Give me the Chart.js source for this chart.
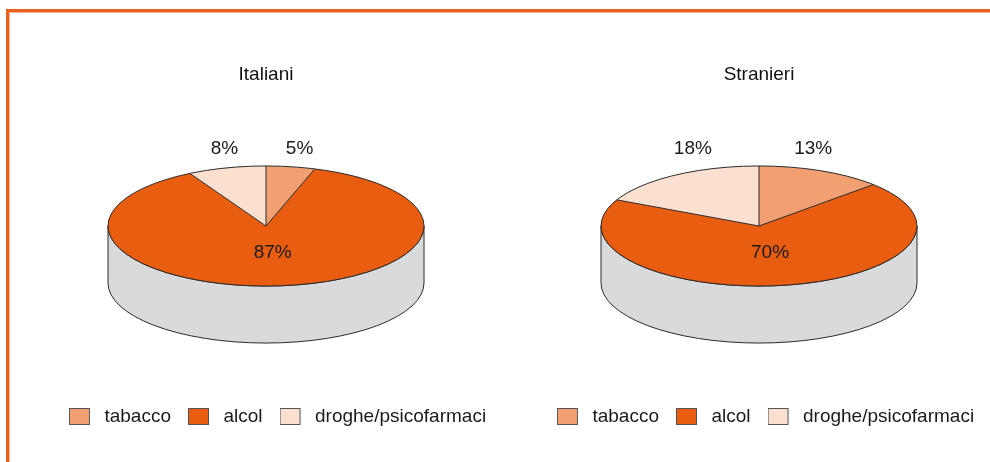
<!DOCTYPE html>
<html><head><meta charset="utf-8">
<script src="https://cdn.jsdelivr.net/npm/chart.js@4.4.0/dist/chart.umd.min.js"></script>
<style>
html,body{margin:0;padding:0;background:#fff;width:990px;height:462px;overflow:hidden;position:relative}
#frame{position:absolute;left:6px;top:9px;width:1000px;height:470px;border-top:3px solid #e8601c;border-left:3px solid #e8601c;box-shadow:inset 1px 1px 0 #f6b48f;box-sizing:border-box}
.wrap{position:absolute;top:0;width:480px;height:462px}
canvas{display:block}
</style></head><body>
<div id="frame"></div>
<div class="wrap" style="left:26px"><canvas id="c1" width="480" height="462"></canvas></div>
<div class="wrap" style="left:519px"><canvas id="c2" width="480" height="462"></canvas></div>
<script>
// ---- data ----
const categories = ['tabacco', 'alcol', 'droghe/psicofarmaci'];
const italiani = [5, 87, 8];
const stranieri = [13, 70, 18];
const titles = ['Italiani', 'Stranieri'];
const colors = ['#f2a071', '#e85d10', '#fbe0d0'];

const FONT = '"Liberation Sans", Arial, Helvetica, sans-serif';
Chart.defaults.font.family = FONT;

// legend swatches (box + spacing)
function swatch(color) {
  const c = document.createElement('canvas');
  c.width = 26; c.height = 18;
  const g = c.getContext('2d');
  g.fillStyle = color; g.fillRect(0.5, 0.5, 20, 16);
  g.strokeStyle = '#555'; g.lineWidth = 1; g.strokeRect(0.5, 0.5, 20, 16);
  return c;
}
const swatches = colors.map(swatch);

const pie3d = {
  id: 'pie3d',
  afterLayout(chart, args, opts) {
    const lg = chart.legend;
    if (lg && opts.legendShift) { lg.left += opts.legendShift; lg.right += opts.legendShift; }
  },
  beforeDatasetsDraw(chart, args, opts) {
    const arcs = chart.getDatasetMeta(0).data;
    if (!arcs.length) return;
    const a = arcs[0];
    const k = opts.tilt, d = opts.depth, R = a.outerRadius;
    const cx = a.x, cy = a.y - d / 2;
    const ctx = chart.ctx;
    ctx.save();
    ctx.beginPath();
    ctx.moveTo(cx + R, cy);
    ctx.lineTo(cx + R, cy + d);
    ctx.ellipse(cx, cy + d, R, R * k, 0, 0, Math.PI, false);
    ctx.lineTo(cx - R, cy);
    ctx.ellipse(cx, cy, R, R * k, 0, Math.PI, 0, true);
    ctx.closePath();
    ctx.fillStyle = opts.sideColor; ctx.fill();
    ctx.lineWidth = 1; ctx.strokeStyle = opts.lineColor; ctx.stroke();
    ctx.restore();
    ctx.save();
    ctx.translate(a.x, cy); ctx.scale(1, k); ctx.translate(-a.x, -a.y);
  },
  afterDatasetsDraw(chart, args, opts) {
    const arcs = chart.getDatasetMeta(0).data;
    if (!arcs.length) return;
    const ctx = chart.ctx;
    ctx.restore();
    const a = arcs[0];
    const k = opts.tilt, d = opts.depth, R = a.outerRadius;
    const cx = a.x, cy = a.y - d / 2;
    ctx.save();
    ctx.strokeStyle = opts.lineColor; ctx.lineWidth = 1;
    ctx.beginPath(); ctx.ellipse(cx, cy, R, R * k, 0, 0, Math.PI * 2); ctx.stroke();
    arcs.forEach(arc => {
      ctx.beginPath();
      ctx.moveTo(cx, cy);
      ctx.lineTo(cx + R * Math.cos(arc.startAngle), cy + k * R * Math.sin(arc.startAngle));
      ctx.stroke();
    });
    const vals = chart.data.datasets[0].data;
    ctx.fillStyle = '#1a1a1a';
    ctx.font = '19px ' + FONT;
    ctx.textAlign = 'center'; ctx.textBaseline = 'middle';
    arcs.forEach((arc, i) => {
      const mid = (arc.startAngle + arc.endAngle) / 2;
      const span = arc.endAngle - arc.startAngle;
      let x, y;
      if (span > Math.PI) {
        x = cx + 0.45 * R * Math.cos(mid);
        y = cy + k * 0.45 * R * Math.sin(mid);
      } else {
        const c = Math.cos(mid);
        x = cx + R * c * 0.55 + Math.sign(c) * 20;
        y = cy - k * R - 17;
      }
      ctx.fillText(vals[i] + '%', x, y);
    });
    ctx.restore();
  }
};

function makeChart(id, values, title, shift) {
  return new Chart(document.getElementById(id), {
    type: 'pie',
    data: {
      labels: categories,
      datasets: [{ data: values, backgroundColor: colors, borderWidth: 0, radius: 158, clip: false, hoverOffset: 0 }]
    },
    options: {
      responsive: false, animation: false, devicePixelRatio: 1, events: [],
      radius: 158,
      layout: { padding: { top: 0, bottom: 25.5, left: 0, right: 0 } },
      plugins: {
        title: { display: true, text: title, color: '#111', font: { size: 19, family: FONT, weight: 'normal' }, padding: { top: 63.6, bottom: 32.1 } },
        legend: {
          position: 'bottom',
          labels: {
            color: '#1a1a1a', font: { size: 19, family: FONT }, padding: 17,
            usePointStyle: true, pointStyleWidth: 26,
            generateLabels(chart) {
              const items = Chart.overrides.pie.plugins.legend.labels.generateLabels(chart);
              items.forEach((it, i) => { it.pointStyle = swatches[i]; });
              return items;
            }
          }
        },
        tooltip: { enabled: false },
        pie3d: { depth: 57, tilt: 0.38, legendShift: shift, sideColor: '#d9dadc', lineColor: '#2a2a2a' }
      }
    },
    plugins: [pie3d]
  });
}
makeChart('c1', italiani, titles[0], 11.5);
makeChart('c2', stranieri, titles[1], 6.5);
</script>
</body></html>
